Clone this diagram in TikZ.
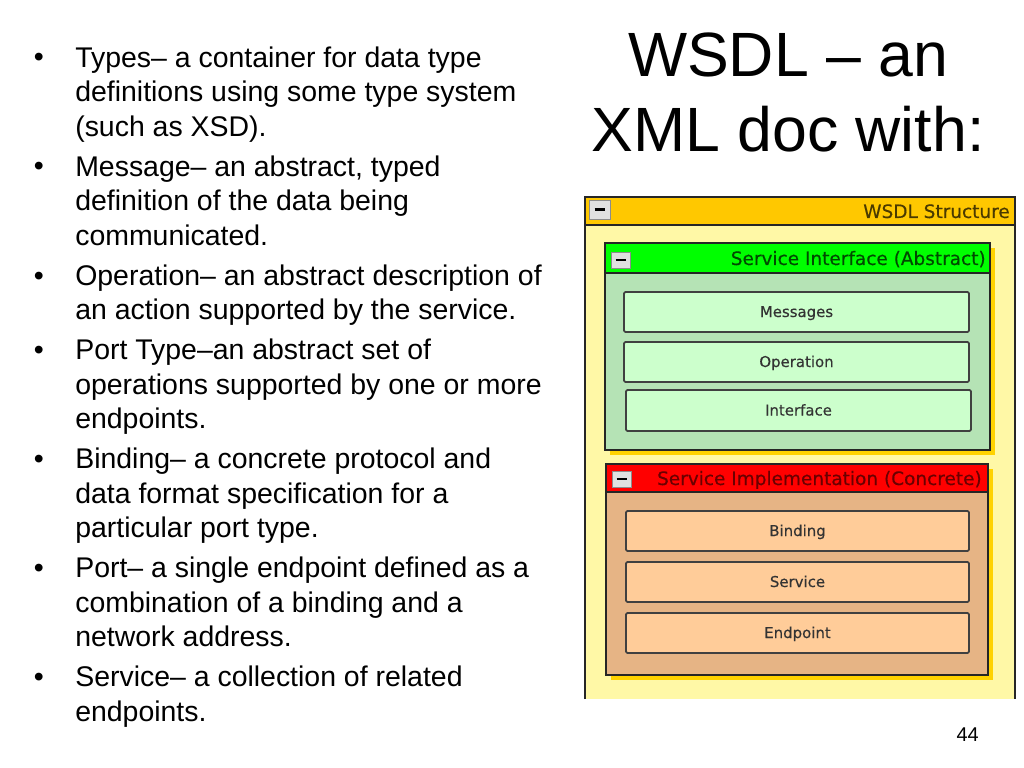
\documentclass[tikz,border=0pt]{standalone}
\usepackage{fontspec}
\setmainfont{Liberation Sans}
\newfontfamily\guifont[FakeBold=0.4]{DejaVu Sans}
\definecolor{wsdlbar}{HTML}{FFC800}
\definecolor{wsdlbody}{HTML}{FFF8A6}
\definecolor{wsdltext}{HTML}{4A3A00}
\definecolor{sibar}{HTML}{00FF00}
\definecolor{sibody}{HTML}{B5E3B5}
\definecolor{sibox}{HTML}{CCFFCC}
\definecolor{sitext}{HTML}{004A00}
\definecolor{cibar}{HTML}{FF0000}
\definecolor{cibody}{HTML}{E6B485}
\definecolor{cibox}{HTML}{FFCC99}
\definecolor{citext}{HTML}{6A0000}
\definecolor{panelshadow}{HTML}{FFD200}
\begin{document}
\begin{tikzpicture}[x=0.703125pt,y=-0.703125pt,
    title/.style={anchor=north,inner sep=0pt,align=center,font=\fontsize{44}{52.7}\selectfont},
    item/.style={anchor=north west,inner sep=0pt,align=left,font=\fontsize{20}{24.26}\selectfont},
    bullet/.style={anchor=base west,inner sep=0pt,font=\fontsize{20}{24.26}\selectfont},
    panel/.style={draw=black!85,line width=1.3pt},
    innerbox/.style={draw=black!75,line width=1.2pt,rounded corners=1pt},
    minusbox/.style={draw=black!45,fill=black!12,line width=0.6pt},
    minusbar/.style={line width=1.6pt},
    bartext/.style={anchor=base east,inner sep=0pt,font=\guifont\fontsize{13}{15}\selectfont},
    boxtext/.style={anchor=base,inner sep=0pt,text=black!80,font=\guifont\fontsize{10.5}{12}\selectfont}]
    \useasboundingbox (0,0) rectangle (1024,768);
    \fill[white] (0,0) rectangle (1024,768);
    % title and bullet list
    \node[title] (title) at (788,23.5) {\strut WSDL – an\\XML doc with:};
    \node[bullet] (types-b) at (33.5,67) {•};
    \node[item] (types) at (75,42.8) {\strut Types– a container for data type\\definitions using some type system\\(such as XSD).};
    \node[bullet] (message-b) at (33.5,176) {•};
    \node[item] (message) at (75,151.8) {\strut Message– an abstract, typed\\definition of the data being\\communicated.};
    \node[bullet] (operation-b) at (33.5,285) {•};
    \node[item] (operation) at (75,260.8) {\strut Operation– an abstract description of\\an action supported by the service.};
    \node[bullet] (porttype-b) at (33.5,359.5) {•};
    \node[item] (porttype) at (75,335.3) {\strut Port Type–an abstract set of\\operations supported by one or more\\endpoints.};
    \node[bullet] (binding-b) at (33.5,468.5) {•};
    \node[item] (binding) at (75,444.3) {\strut Binding– a concrete protocol and\\data format specification for a\\particular port type.};
    \node[bullet] (port-b) at (33.5,577.5) {•};
    \node[item] (port) at (75,553.3) {\strut Port– a single endpoint defined as a\\combination of a binding and a\\network address.};
    \node[bullet] (service-b) at (33.5,686.5) {•};
    \node[item] (service) at (75,662.3) {\strut Service– a collection of related\\endpoints.};
    % WSDL structure panel
    \fill[wsdlbody] (585,197) rectangle (1015,699);
    \draw[panel] (585,699) -- (585,197) -- (1015,197) -- (1015,699);
    \draw[panel,fill=wsdlbar] (585,197) rectangle (1015,225);
    \draw[minusbox] (589,200) rectangle (610,219);
    \draw[minusbar] (594.5,209.5) -- (604.5,209.5);
    \node[bartext,text=wsdltext] (wsdl) at (1010,218) {WSDL Structure};
    % abstract part
    \fill[panelshadow] (610,248) rectangle (995,455);
    \draw[panel,fill=sibody] (605,243) rectangle (990,450);
    \draw[panel,fill=sibar] (605,243) rectangle (990,273);
    \draw[minusbox] (611,252) rectangle (630,268);
    \draw[minusbar] (615.5,260) -- (625.5,260);
    \node[bartext,text=sitext] (abstract) at (986,265) {Service Interface (Abstract)};
    \draw[innerbox,fill=sibox] (624,292) rectangle (969,332);
    \node[boxtext] (messages) at (796.5,317) {Messages};
    \draw[innerbox,fill=sibox] (624,342) rectangle (969,382);
    \node[boxtext] (operations) at (796.5,367) {Operation};
    \draw[innerbox,fill=sibox] (626,390) rectangle (971,431);
    \node[boxtext] (interface) at (798.5,415.5) {Interface};
    % concrete part
    \fill[panelshadow] (611,469) rectangle (993,680);
    \draw[panel,fill=cibody] (606,464) rectangle (988,675);
    \draw[panel,fill=cibar] (606,464) rectangle (988,492);
    \draw[minusbox] (612,471) rectangle (631,487);
    \draw[minusbar] (616.5,479) -- (626.5,479);
    \node[bartext,text=citext] (concrete) at (982,485) {Service Implementation (Concrete)};
    \draw[innerbox,fill=cibox] (626,511) rectangle (969,551);
    \node[boxtext] (bindings) at (797.5,536) {Binding};
    \draw[innerbox,fill=cibox] (626,562) rectangle (969,602);
    \node[boxtext] (services) at (797.5,587) {Service};
    \draw[innerbox,fill=cibox] (626,613) rectangle (969,653);
    \node[boxtext] (endpoint) at (797.5,638) {Endpoint};
    % slide number
    \node[anchor=base east,inner sep=0pt,font=\fontsize{14}{16.8}\selectfont] (pagenum) at (979,741) {44};
\end{tikzpicture}
\end{document}
